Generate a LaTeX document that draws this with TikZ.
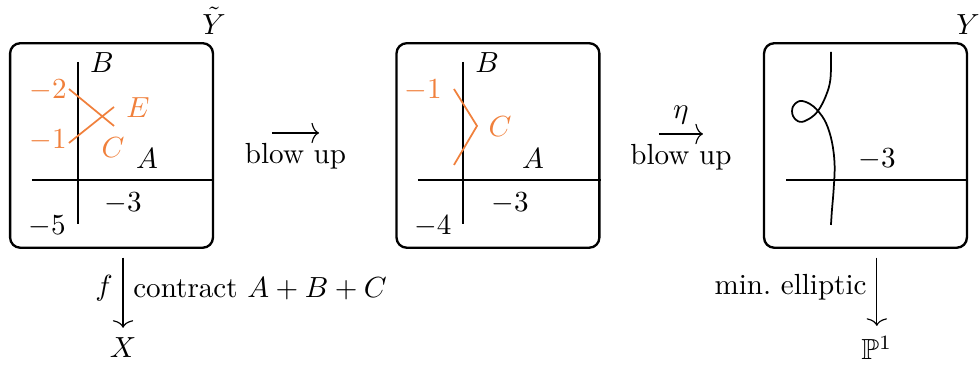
\documentclass[tikz,border=0pt]{standalone}
\usepackage{amsmath,amssymb,amsfonts}
\usepackage{xcolor}
\usepackage{tikz}
\usetikzlibrary{positioning,calc,arrows.meta}
\definecolor{exccol}{RGB}{240,128,60}

\begin{document}
\begin{tikzpicture}[
  panel/.style={draw, thick, rounded corners=3.5pt, minimum width=2.45cm, minimum height=2.47cm, inner sep=0pt},
  curve/.style={semithick},
  exc/.style={semithick, exccol},
  map/.style={-{Computer Modern Rightarrow[length=2.6pt,width=7pt]}},
  vmap/.style={map, shorten <=3pt}
]
  \useasboundingbox (0,0) rectangle (11.836,4.432);

  % Panels
  \node[panel] (ytil) at (1.347, 2.675) {};
  \node[panel] (ymid) at (6.014, 2.675) {};
  \node[panel] (ymin) at (10.453, 2.675) {};
  \node[above, inner sep=2.5pt] (ytillbl) at (ytil.north east) {$\tilde{Y}$};
  \node[above, inner sep=2.5pt] (yminlbl) at (ymin.north east) {$Y$};

  % Panel 1: A, B and the two exceptional curves
  \draw[curve] (0.938, 3.684) -- (0.938, 1.727);
  \draw[curve] (0.386, 2.258) -- (ytil.east |- 0,2.258);
  \draw[exc] (0.833, 3.357) -- (1.377, 2.911);
  \draw[exc] (0.833, 2.705) -- (1.377, 3.140);
  \node (b1) at (1.232, 3.671) {$B$};
  \node (a1) at (1.775, 2.512) {$A$};
  \node (a1n) at (1.486, 1.981) {$-3$};
  \node (b1n) at (0.568, 1.703) {$-5$};
  \node[text=exccol] (e1n) at (0.580, 3.345) {$-2$};
  \node[text=exccol] (c1n) at (0.580, 2.742) {$-1$};
  \node[text=exccol] (e1) at (1.667, 3.128) {$E$};
  \node[text=exccol] (c1) at (1.365, 2.645) {$C$};

  % Panel 2: after contracting E
  \draw[curve] (5.595, 3.684) -- (5.595, 1.727);
  \draw[curve] (5.048, 2.258) -- (ymid.east |- 0,2.258);
  \draw[exc] (5.483, 3.357) -- (5.761, 2.911) -- (5.483, 2.440);
  \node (b2) at (5.882, 3.671) {$B$};
  \node (a2) at (6.437, 2.512) {$A$};
  \node (a2n) at (6.159, 1.981) {$-3$};
  \node (b2n) at (5.229, 1.703) {$-4$};
  \node[text=exccol] (c2n) at (5.109, 3.345) {$-1$};
  \node[text=exccol] (c2) at (6.039, 2.899) {$C$};

  % Panel 3: nodal fibre and the section
  \draw[curve] (9.493, 2.258) -- (ymin.east |- 0,2.258);
  \draw[curve] plot[smooth, tension=0.6] coordinates {
    (10.036, 3.804) (10.030, 3.480) (9.975, 3.275) (9.879, 3.092)
    (9.770, 2.995) (9.660, 2.960) (9.578, 3.030) (9.575, 3.140)
    (9.660, 3.212) (9.780, 3.178) (9.879, 3.092)
    (9.976, 2.947) (10.048, 2.717) (10.080, 2.440) (10.068, 2.138)
    (10.048, 1.896) (10.036, 1.715)};
  \node (a3n) at (10.592, 2.512) {$-3$};

  % Horizontal maps
  \coordinate (h1s) at (3.285, 2.826);
  \coordinate (h1e) at (3.853, 2.826);
  \draw[map] (h1s) -- (h1e) node[midway, below] (h1lbl) {blow up};
  \coordinate (h2s) at (7.959, 2.814);
  \coordinate (h2e) at (8.490, 2.814);
  \draw[map] (h2s) -- (h2e) node[midway, above] (h2top) {$\eta$}
    node[midway, below] (h2lbl) {blow up};

  % Vertical maps
  \node (xbase) at (1.486, 0.229) {$X$};
  \node (pbase) at (10.59, 0.229) {$\mathbb{P}^1$};
  \draw[vmap] (xbase |- ytil.south) -- (xbase)
    node[midway, left] (flbl) {$f$}
    node[midway, right] (ctlbl) {contract $A+B+C$};
  \draw[vmap] (pbase |- ymin.south) -- (pbase)
    node[midway, left] (ellbl) {min.\ elliptic};
\end{tikzpicture}
\end{document}
